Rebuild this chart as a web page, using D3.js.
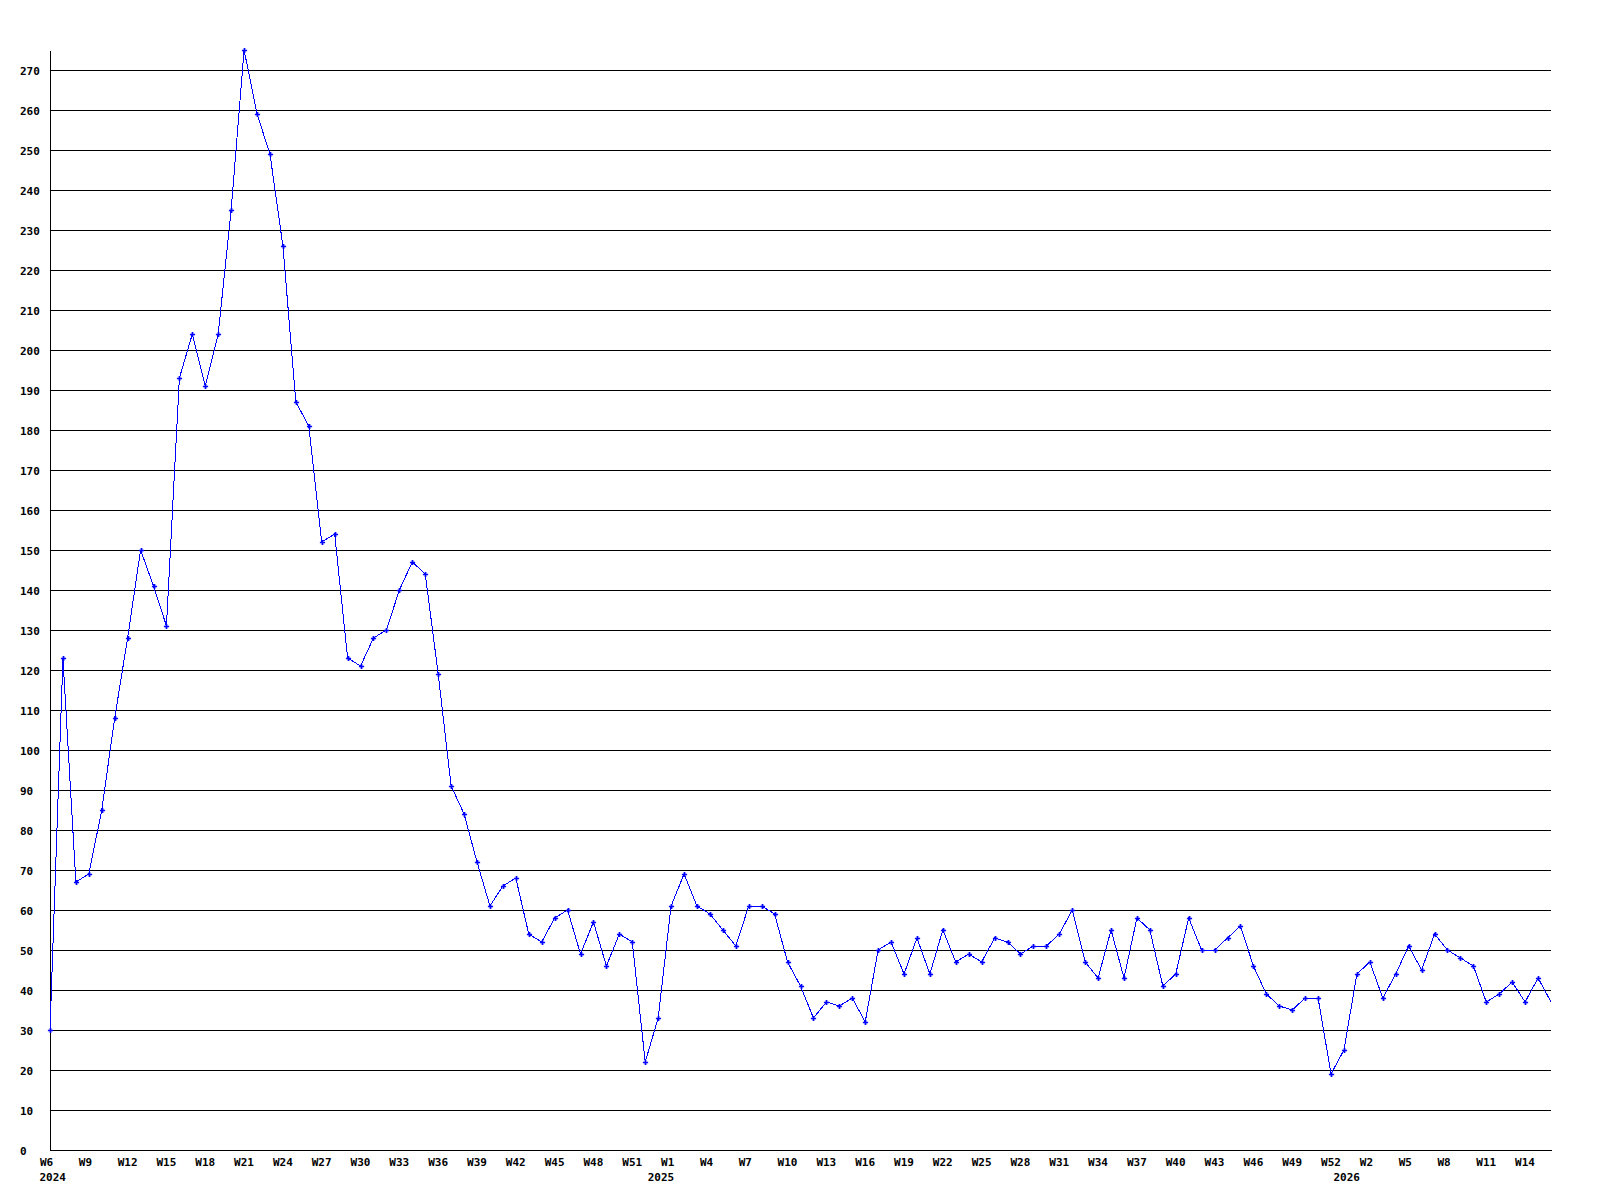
<!DOCTYPE html>
<html>
<head>
<meta charset="utf-8">
<script src="https://cdn.jsdelivr.net/npm/d3@7"></script>
<style>
  html, body { margin: 0; padding: 0; background: #fff; }
  svg { display: block; }
  text { font-family: "DejaVu Sans Mono", "Liberation Mono", monospace; font-weight: bold; font-size: 11px; fill: #000; }
</style>
</head>
<body>
<svg id="chart" width="1600" height="1200"></svg>
<script>
// ---- data (weekly values, W6 2024 .. W17 2026) ----
const values = [
  30, 123, 67, 69, 85, 108, 128, 150, 141, 131,
  193, 204, 191, 204, 235, 275, 259, 249, 226, 187,
  181, 152, 154, 123, 121, 128, 130, 140, 147, 144,
  119, 91, 84, 72, 61, 66, 68, 54, 52, 58,
  60, 49, 57, 46, 54, 52, 22, 33, 61, 69,
  61, 59, 55, 51, 61, 61, 59, 47, 41, 33,
  37, 36, 38, 32, 50, 52, 44, 53, 44, 55,
  47, 49, 47, 53, 52, 49, 51, 51, 54, 60,
  47, 43, 55, 43, 58, 55, 41, 44, 58, 50,
  50, 53, 56, 46, 39, 36, 35, 38, 38, 19,
  25, 44, 47, 38, 44, 51, 45, 54, 50, 48,
  46, 37, 39, 42, 37, 43, 37
];

// week tick labels and the point index they sit on
const xTickIndex = [0, 3, 6, 9, 12, 15, 18, 21, 24, 27, 30, 33, 36, 39, 42, 45,
  48, 51, 54, 57, 60, 63, 66, 69, 72, 75, 78, 81, 84, 87, 90, 93, 96, 99,
  102, 105, 108, 111, 114];
const xTickLabels = ["W6", "W9", "W12", "W15", "W18", "W21", "W24", "W27", "W30", "W33", "W36", "W39", "W42", "W45", "W48", "W51",
  "W1", "W4", "W7", "W10", "W13", "W16", "W19", "W22", "W25", "W28", "W31", "W34", "W37", "W40", "W43", "W46", "W49", "W52",
  "W2", "W5", "W8", "W11", "W14"];

// year labels and the point index they sit on
const yearIndex = [0, 47, 100];
const yearLabels = ["2024", "2025", "2026"];

// y ticks
const yTicks = [0, 10, 20, 30, 40, 50, 60, 70, 80, 90, 100, 110, 120, 130, 140, 150, 160, 170, 180, 190, 200, 210, 220, 230, 240, 250, 260, 270];
const yMax = 275;

(function () {
  // ---- layout ----
  const plotLeft = 50, plotRight = 1551, plotTop = 50, plotBottom = 1150;

  const svg = d3.select("#chart");

  const x = d3.scaleLinear().domain([0, values.length - 1]).range([plotLeft, plotRight]);
  const y = d3.scaleLinear().domain([0, yMax]).range([plotBottom, plotTop]);

  // y axis with gridlines
  const yAxis = d3.axisLeft(y)
    .tickValues(yTicks)
    .tickSize(-(plotRight - plotLeft))
    .tickSizeOuter(0)
    .tickPadding(0)
    .tickFormat(d => String(d));

  const gy = svg.append("g")
    .attr("transform", `translate(${plotLeft},0)`)
    .call(yAxis);

  gy.select(".domain").attr("stroke", "#000").attr("stroke-width", 1).attr("shape-rendering", "crispEdges");
  gy.selectAll(".tick line").attr("stroke", "#000").attr("stroke-width", 1).attr("shape-rendering", "crispEdges");
  gy.selectAll(".tick text")
    .attr("x", 20 - plotLeft)
    .attr("dy", null)
    .attr("y", 4)
    .attr("text-anchor", "start")
    .attr("fill", "#000");
  gy.attr("font-family", null).attr("font-size", null);

  // x axis (week labels)
  const xAxis = d3.axisBottom(x)
    .tickValues(xTickIndex)
    .tickSize(0)
    .tickSizeOuter(0)
    .tickFormat((d, i) => xTickLabels[i]);

  const gx = svg.append("g")
    .attr("transform", `translate(0,${plotBottom})`)
    .call(xAxis);

  gx.attr("font-family", null).attr("font-size", null);
  gx.select(".domain").attr("stroke", "#000").attr("stroke-width", 1).attr("shape-rendering", "crispEdges");
  gx.selectAll(".tick text")
    .attr("dy", null)
    .attr("y", 16)
    .attr("x", -10.5)
    .attr("text-anchor", "start")
    .attr("fill", "#000");

  // year labels
  svg.append("g")
    .selectAll("text")
    .data(yearIndex)
    .join("text")
    .attr("x", d => x(d) - 10.5)
    .attr("y", plotBottom + 31)
    .attr("text-anchor", "start")
    .text((d, i) => yearLabels[i]);

  // line
  const line = d3.line()
    .x((d, i) => x(i))
    .y(d => y(d));

  svg.append("path")
    .datum(values)
    .attr("fill", "none")
    .attr("stroke", "#0000ff")
    .attr("stroke-width", 1)
    .attr("shape-rendering", "crispEdges")
    .attr("d", line);

  // markers (last point sits on the plot edge, no marker drawn there)
  const marker = d3.symbol().type(d3.symbolCross).size(15);
  svg.append("g")
    .selectAll("path")
    .data(values.slice(0, values.length - 1))
    .join("path")
    .attr("transform", (d, i) => `translate(${Math.round(x(i)) + 0.5},${Math.round(y(d)) + 0.5})`)
    .attr("fill", "#0000ff")
    .attr("d", marker);
})();
</script>
</body>
</html>
